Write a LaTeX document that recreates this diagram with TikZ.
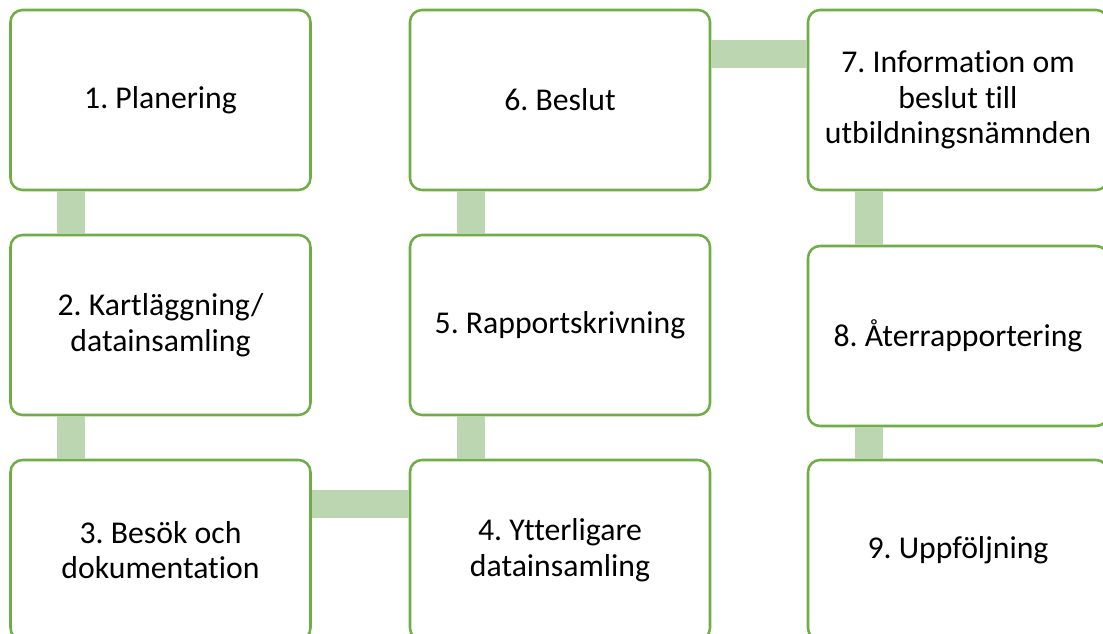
\documentclass[tikz,border=0pt]{standalone}
\usepackage{fontspec}
\setmainfont{Carlito}[RawFeature={-liga;-clig;-calt;-dlig}]
\frenchspacing
\definecolor{boxgreen}{RGB}{112,173,71}
\definecolor{linkgreen}{RGB}{189,214,178}

\begin{document}
\begin{tikzpicture}[x=0.75pt,y=-0.75pt,
	stepbox/.style={draw=boxgreen, line width=1.9pt, fill=white, rounded corners=9pt,
		minimum width=225pt, minimum height=135pt, align=center,
		font=\fontsize{23.8}{26.8}\selectfont},
	link/.style={linkgreen, line width=21pt}]
	\useasboundingbox (0,0) rectangle (1103,634);
	% the nine steps
	\node [stepbox] (p1) at (160.5,100) {1. Planering};
	\node [stepbox] (p2) at (160.5,325) {2. Kartläggning/\\datainsamling};
	\node [stepbox] (p3) at (160.5,550) {3. Besök och\\dokumentation};
	\node [stepbox] (p4) at (560,550) {4. Ytterligare\\datainsamling};
	\node [stepbox] (p5) at (560,325) {5. Rapportskrivning};
	\node [stepbox] (p6) at (560,100) {6. Beslut};
	\node [stepbox] (p7) at (958,100) {7. Information om\\beslut till\\utbildningsnämnden};
	\node [stepbox] (p8) at (958,336) {8. Återrapportering};
	\node [stepbox] (p9) at (958,550) {9. Uppföljning};
	% links between steps
	\draw [link] ([xshift=46.5pt]p1.south west) -- ([xshift=46.5pt]p2.north west);
	\draw [link] ([xshift=46.5pt]p2.south west) -- ([xshift=46.5pt]p3.north west);
	\draw [link] ([yshift=-33.75pt]p3.north east) -- ([yshift=-33.75pt]p4.north west);
	\draw [link] ([xshift=46.5pt]p4.north west) -- ([xshift=46.5pt]p5.south west);
	\draw [link] ([xshift=46.5pt]p5.north west) -- ([xshift=46.5pt]p6.south west);
	\draw [link] ([yshift=-33.75pt]p6.north east) -- ([yshift=-33.75pt]p7.north west);
	\draw [link] ([xshift=46.5pt]p7.south west) -- ([xshift=46.5pt]p8.north west);
	\draw [link] ([xshift=46.5pt]p8.south west) -- ([xshift=46.5pt]p9.north west);
\end{tikzpicture}
\end{document}
